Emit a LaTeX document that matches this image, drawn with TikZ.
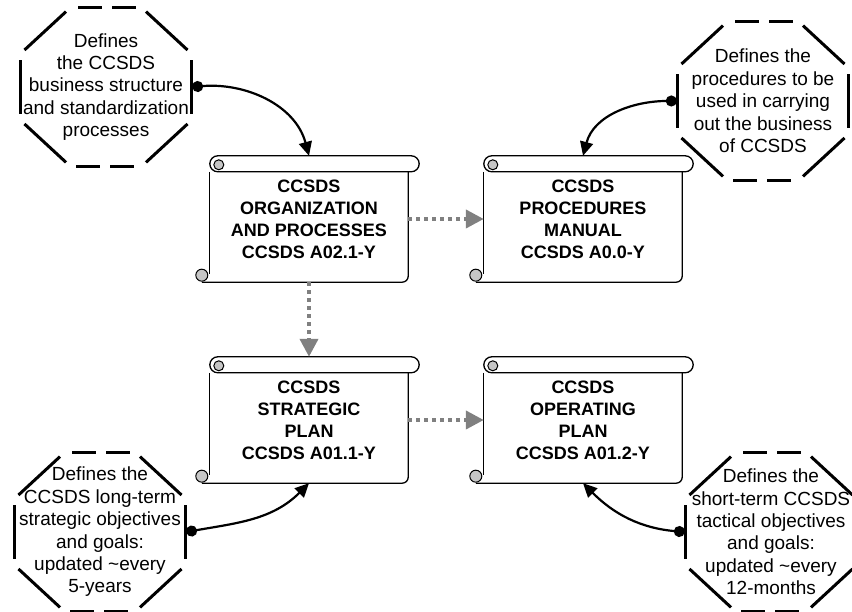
\documentclass[tikz,border=0pt]{standalone}
\usepackage{fontspec}
\setmainfont{Liberation Sans}
\usetikzlibrary{arrows.meta,calc}
\tikzset{
  scrolltext/.style={minimum width=198pt, minimum height=126pt, inner sep=0pt, align=center,
    font=\fontsize{18}{22}\selectfont\bfseries},
  scrollline/.style={line width=1.3pt},
  curl/.style={line width=1pt, fill=gray!45},
  octnote/.style={minimum width=172pt, minimum height=159pt, inner sep=0pt, align=center,
    font=\fontsize{19}{22.4}\selectfont},
  octline/.style={line width=3pt, shorten >=6pt, shorten <=6pt},
  flowarrow/.style={gray, line width=4pt, dash pattern=on 4pt off 4pt,
    -{Triangle[length=18pt,width=18pt]}},
  notearrow/.style={line width=2.2pt, {Circle[length=11pt]}-{Triangle[length=14pt,width=13pt]}}
}
\newcommand{\scrollframe}[1]{%
  \draw[scrollline] ($(#1.north west)+(0,-16)$) -- ($(#1.south west)+(0,8)$);
  \draw[scrollline] ($(#1.south west)+(-8,0)$) -- ($(#1.south east)+(-6,0)$)
    arc[start angle=-90,end angle=0,radius=6] -- ($(#1.north east)+(0,-16)$);
  \draw[scrollline] ($(#1.north west)+(8,-16)$) -- ($(#1.north east)+(3,-16)$)
    arc[start angle=-90,end angle=90,radius=8] -- ($(#1.north west)+(8,0)$)
    arc[start angle=90,end angle=270,radius=8];
  \filldraw[curl] ($(#1.north west)+(9,-9)$) circle (5);
  \filldraw[curl] ($(#1.south west)+(-8,7)$) circle (6);
}
\newcommand{\octframe}[1]{%
  \foreach \a in {-22.5,22.5,112.5,157.5,202.5,292.5}
    {\draw[octline] ($(#1)+(\a:93 and 86)$) -- ($(#1)+(\a+45:93 and 86)$);}
  \foreach \a in {67.5,247.5}
    {\draw[octline,dash pattern=on 24pt off 10pt] ($(#1)+(\a:93 and 86)$) -- ($(#1)+(\a+45:93 and 86)$);}
}
\begin{document}
\begin{tikzpicture}[x=1pt,y=1pt]
  \useasboundingbox (0,0) rectangle (852,612);

  \node[scrolltext] (box1) at (309,393) {CCSDS\\ORGANIZATION\\AND PROCESSES\\CCSDS A02.1-Y};
  \node[scrolltext] (box2) at (583,393) {CCSDS\\PROCEDURES\\MANUAL\\CCSDS A0.0-Y};
  \node[scrolltext] (box3) at (309,192) {CCSDS\\STRATEGIC\\PLAN\\CCSDS A01.1-Y};
  \node[scrolltext] (box4) at (583,192) {CCSDS\\OPERATING\\PLAN\\CCSDS A01.2-Y};
  \foreach \b in {box1,box2,box3,box4} {
    \scrollframe{\b}
  }

  \node[octnote] (oct1) at (106,525) {Defines\\the CCSDS\\business structure\\and standardization\\processes};
  \node[octnote] (oct2) at (763,511) {Defines the\\procedures to be\\used in carrying\\out the business\\of CCSDS};
  \node[octnote] (oct3) at (100,80) {Defines the\\CCSDS long-term\\strategic objectives\\and goals:\\updated \textasciitilde every\\5-years};
  \node[octnote] (oct4) at (771,80) {Defines the\\short-term CCSDS\\tactical objectives\\and goals:\\updated \textasciitilde every\\12-months};
  \foreach \o in {oct1,oct2,oct3,oct4} {
    \octframe{\o}
  }

  \draw[flowarrow] (box1.east) -- (box2.west);
  \draw[flowarrow] (box1.south) -- (box3.north);
  \draw[flowarrow] (box3.east) -- (box4.west);

  \draw[notearrow] (oct1.east) to[out=5,in=105] (box1.north);
  \draw[notearrow] (oct2.west) to[out=180,in=75] (box2.north);
  \draw[notearrow] (oct3.east) to[out=10,in=225] (box3.south);
  \draw[notearrow] (oct4.west) to[out=175,in=-45] (box4.south);
\end{tikzpicture}
\end{document}
